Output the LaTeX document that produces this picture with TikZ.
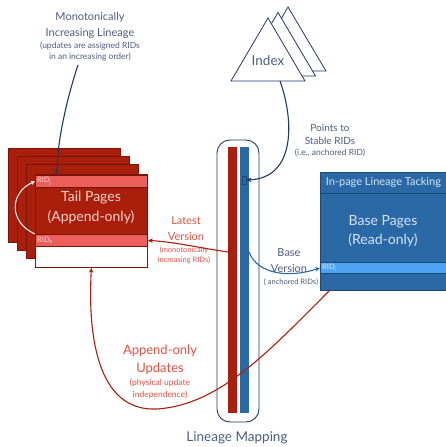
\documentclass[tikz,border=0pt]{standalone}
\usepackage{fontspec}
\setmainfont{Lato}
\usetikzlibrary{arrows.meta}
\definecolor{tailred}{HTML}{A91F0C}
\definecolor{tailedge}{HTML}{7A1408}
\definecolor{ridred}{HTML}{EC5F5B}
\definecolor{tailtext}{HTML}{F4D3CC}
\definecolor{lblred}{HTML}{DE5242}
\definecolor{navy}{HTML}{1E3A63}
\definecolor{lblgray}{HTML}{4B5D7E}
\definecolor{baseblue}{HTML}{2A69A6}
\definecolor{baseedge}{HTML}{1C4A78}
\definecolor{ridblue}{HTML}{4EA4F2}
\definecolor{basetext}{HTML}{D6E5F4}

\begin{document}
\begin{tikzpicture}[x=1pt, y=-1pt,
  tailpg/.style={draw=tailedge, fill=tailred, line width=0.8pt, minimum width=112pt, minimum height=94pt, anchor=north west, inner sep=0pt},
  ridstrip/.style={draw=tailedge, fill=ridred, line width=0.8pt, minimum width=112pt, minimum height=12pt, anchor=north west, inner sep=0pt},
  basestrip/.style={draw=baseedge, line width=0.8pt, minimum width=126pt, anchor=north west, inner sep=0pt},
  ridtxt/.style={font=\fontsize{7.5}{8}\selectfont, anchor=west, inner sep=2pt},
  big/.style={font=\fontsize{11}{16}\selectfont, align=center},
  small/.style={font=\fontsize{8.5}{11.5}\selectfont, align=center},
  navyarrow/.style={draw=navy, line width=1.1pt, -{Stealth[length=5pt,width=4.5pt]}},
  redarrow/.style={draw=tailred, line width=1.1pt, -{Stealth[length=5pt,width=4.5pt]}},
  bluearrow/.style={draw=baseblue, line width=1.1pt, -{Stealth[length=5pt,width=4.5pt]}},
]
\useasboundingbox (0,0) rectangle (446,447);

\node[big, text=lblgray] (mono) at (90,25) {Monotonically\\Increasing Lineage};
\node[small, text=lblgray] (monosub) at (90,51.5) {(updates are assigned RIDs\\in an increasing order)};

\foreach \i in {0,1,2}
  \node[tailpg] (back\i) at (8+9*\i,148+8*\i) {};
\node[tailpg, minimum height=93pt] (tail) at (35,174) {};
\node[ridstrip] (ridj) at (35,175) {};
\node[ridtxt, text=tailtext] (ridjtxt) at (ridj.west) {RID\textsubscript{j}};
\node[ridstrip] (ridk) at (35,234) {};
\node[ridtxt, text=tailtext] (ridktxt) at (ridk.west) {RID\textsubscript{k}};
\node[ridstrip, fill=white, minimum height=21pt] (tailfree) at (35,246) {};
\node[font=\fontsize{14}{20}\selectfont, align=center, text=tailtext] (tailtxt) at (91,208) {Tail Pages\\(Append-only)};
\draw[white, line width=1pt, -{Stealth[length=4pt,width=4pt]}] (ridk.north west) .. controls (8,222) and (10,192) .. (ridj.west);

\coordinate (monofoot) at (78,65);
\coordinate (ridjtop) at (57,175);
\draw[navyarrow] (monofoot) .. controls (68,95) and (57,140) .. (ridjtop);

\foreach \i in {2,1,0}
  \draw[navy, fill=white, line width=0.8pt] (268+10*\i,18-5.5*\i) -- (305+10.5*\i,81-5*\i) -- (231+10*\i,81-5*\i) -- cycle;
\node[font=\fontsize{13.5}{16}\selectfont, text=lblgray] (index) at (268,61) {Index};
\node[font=\fontsize{10}{13}\selectfont, align=center, text=lblgray] (pts) at (330,134.5) {Points to\\Stable RIDs};
\node[small, text=lblgray] (ptssub) at (330,153) {(i.e., anchored RID)};

\node[draw=navy, line width=0.9pt, rounded corners=13pt, minimum width=42pt, minimum height=282pt] (lmap) at (238,281) {};
\fill[tailred] (228,147) rectangle (237,413);
\fill[baseblue] (240,147) rectangle (249,413);
\node[draw=baseedge, line width=0.8pt, minimum width=4pt, minimum height=8pt, inner sep=0pt] (anchor) at (244,180) {};
\node[font=\fontsize{13.5}{16}\selectfont, text=lblgray] (lmaptxt) at (237,438) {Lineage Mapping};

\coordinate (idxbase) at (280,81);
\draw[navyarrow] (idxbase) .. controls (294,120) and (296,178) .. (anchor.east);

\node[basestrip, fill=baseblue, minimum height=118pt] (base) at (320,172) {};
\node[basestrip, fill=baseblue, minimum height=21pt, font=\fontsize{11}{12}\selectfont, text=basetext] (hdr) at (320,172) {In-page Lineage Tacking};
\node[font=\fontsize{14}{19}\selectfont, align=center, text=basetext] (basetxt) at (383,231.5) {Base Pages\\(Read-only)};
\node[basestrip, fill=ridblue, minimum height=11pt] (ridi) at (320,262) {};
\node[ridtxt, text=basetext] (riditxt) at (ridi.west) {RID\textsubscript{i}};

\node[big, text=lblred] (latest) at (186,229) {Latest\\Version};
\node[small, text=lblred, font=\fontsize{7.5}{9.5}\selectfont] (latestsub) at (184,255.5) {(monotonically\\increasing RIDs)};
\coordinate (redbar) at (228,252);
\draw[redarrow] (redbar) .. controls (200,248) and (175,242) .. (ridk.east);

\node[big, text=lblgray] (basever) at (289,261) {Base\\Version};
\node[small, text=lblgray, font=\fontsize{7.5}{9}\selectfont] (baseversub) at (291,282) {( anchored RIDs)};
\coordinate (bluebar) at (249,252);
\draw[bluearrow] (bluebar) .. controls (258,275) and (290,278) .. (ridi.west);

\node[font=\fontsize{13}{18}\selectfont, align=center, text=lblred] (append) at (160,360) {Append-only\\Updates};
\node[small, text=lblred, font=\fontsize{8.5}{12}\selectfont] (appendsub) at (160,389) {(physical update\\independence)};
\coordinate (basefoot) at (330,290);
\draw[redarrow] (basefoot) .. controls (270,350) and (220,405) .. (157,409) .. controls (95,412) and (88,330) .. (tailfree.south);
\end{tikzpicture}
\end{document}
